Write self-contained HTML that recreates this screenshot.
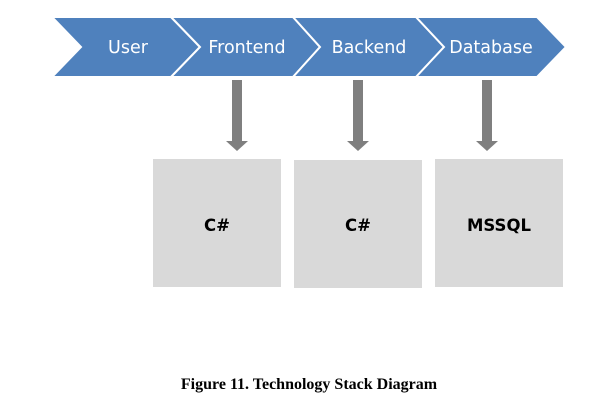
<!DOCTYPE html>
<html><head><meta charset="utf-8"><style>
html,body{margin:0;padding:0;background:#fff;}
body{width:590px;height:414px;position:relative;overflow:hidden;}
svg{position:absolute;left:0;top:0;}
</style></head><body>
<svg width="590" height="414" viewBox="0 0 590 414">
<g fill="#4f81bd" stroke="#fff" stroke-width="2" stroke-linejoin="miter">
<polygon points="52,17 171,17 200,47 171,77 52,77 81,47"/>
<polygon points="171,17 293,17 320,47 293,77 171,77 200,47"/>
<polygon points="293,17 416,17 444,47 416,77 293,77 320,47"/>
<polygon points="416,17 537,17 566,47 537,77 416,77 444,47"/>
</g>
<g font-family="'DejaVu Sans','Liberation Sans',sans-serif" font-size="17.5" fill="#fff" text-anchor="middle">
<text x="128" y="53">User</text>
<text x="247" y="53">Frontend</text>
<text x="369" y="53">Backend</text>
<text x="491" y="53">Database</text>
</g>
<g fill="#7f7f7f">
<rect x="232" y="80" width="10" height="62"/><polygon points="226,141 248,141 237,151"/>
<rect x="353" y="80" width="10" height="62"/><polygon points="347,141 369,141 358,151"/>
<rect x="482" y="80" width="10" height="62"/><polygon points="476,141 498,141 487,151"/>
</g>
<g fill="#d9d9d9">
<rect x="153" y="159" width="128" height="128"/>
<rect x="294" y="160" width="128" height="128"/>
<rect x="435" y="159" width="128" height="128"/>
</g>
<g font-family="'DejaVu Sans','Liberation Sans',sans-serif" font-size="16.5" font-weight="bold" fill="#000" text-anchor="middle">
<text x="217" y="231">C#</text>
<text x="358" y="231">C#</text>
<text x="499" y="231">MSSQL</text>
</g>
<text x="309" y="389" font-family="'Liberation Serif',serif" font-size="16" font-weight="bold" fill="#000" text-anchor="middle">Figure 11. Technology Stack Diagram</text>
</svg>
</body></html>
